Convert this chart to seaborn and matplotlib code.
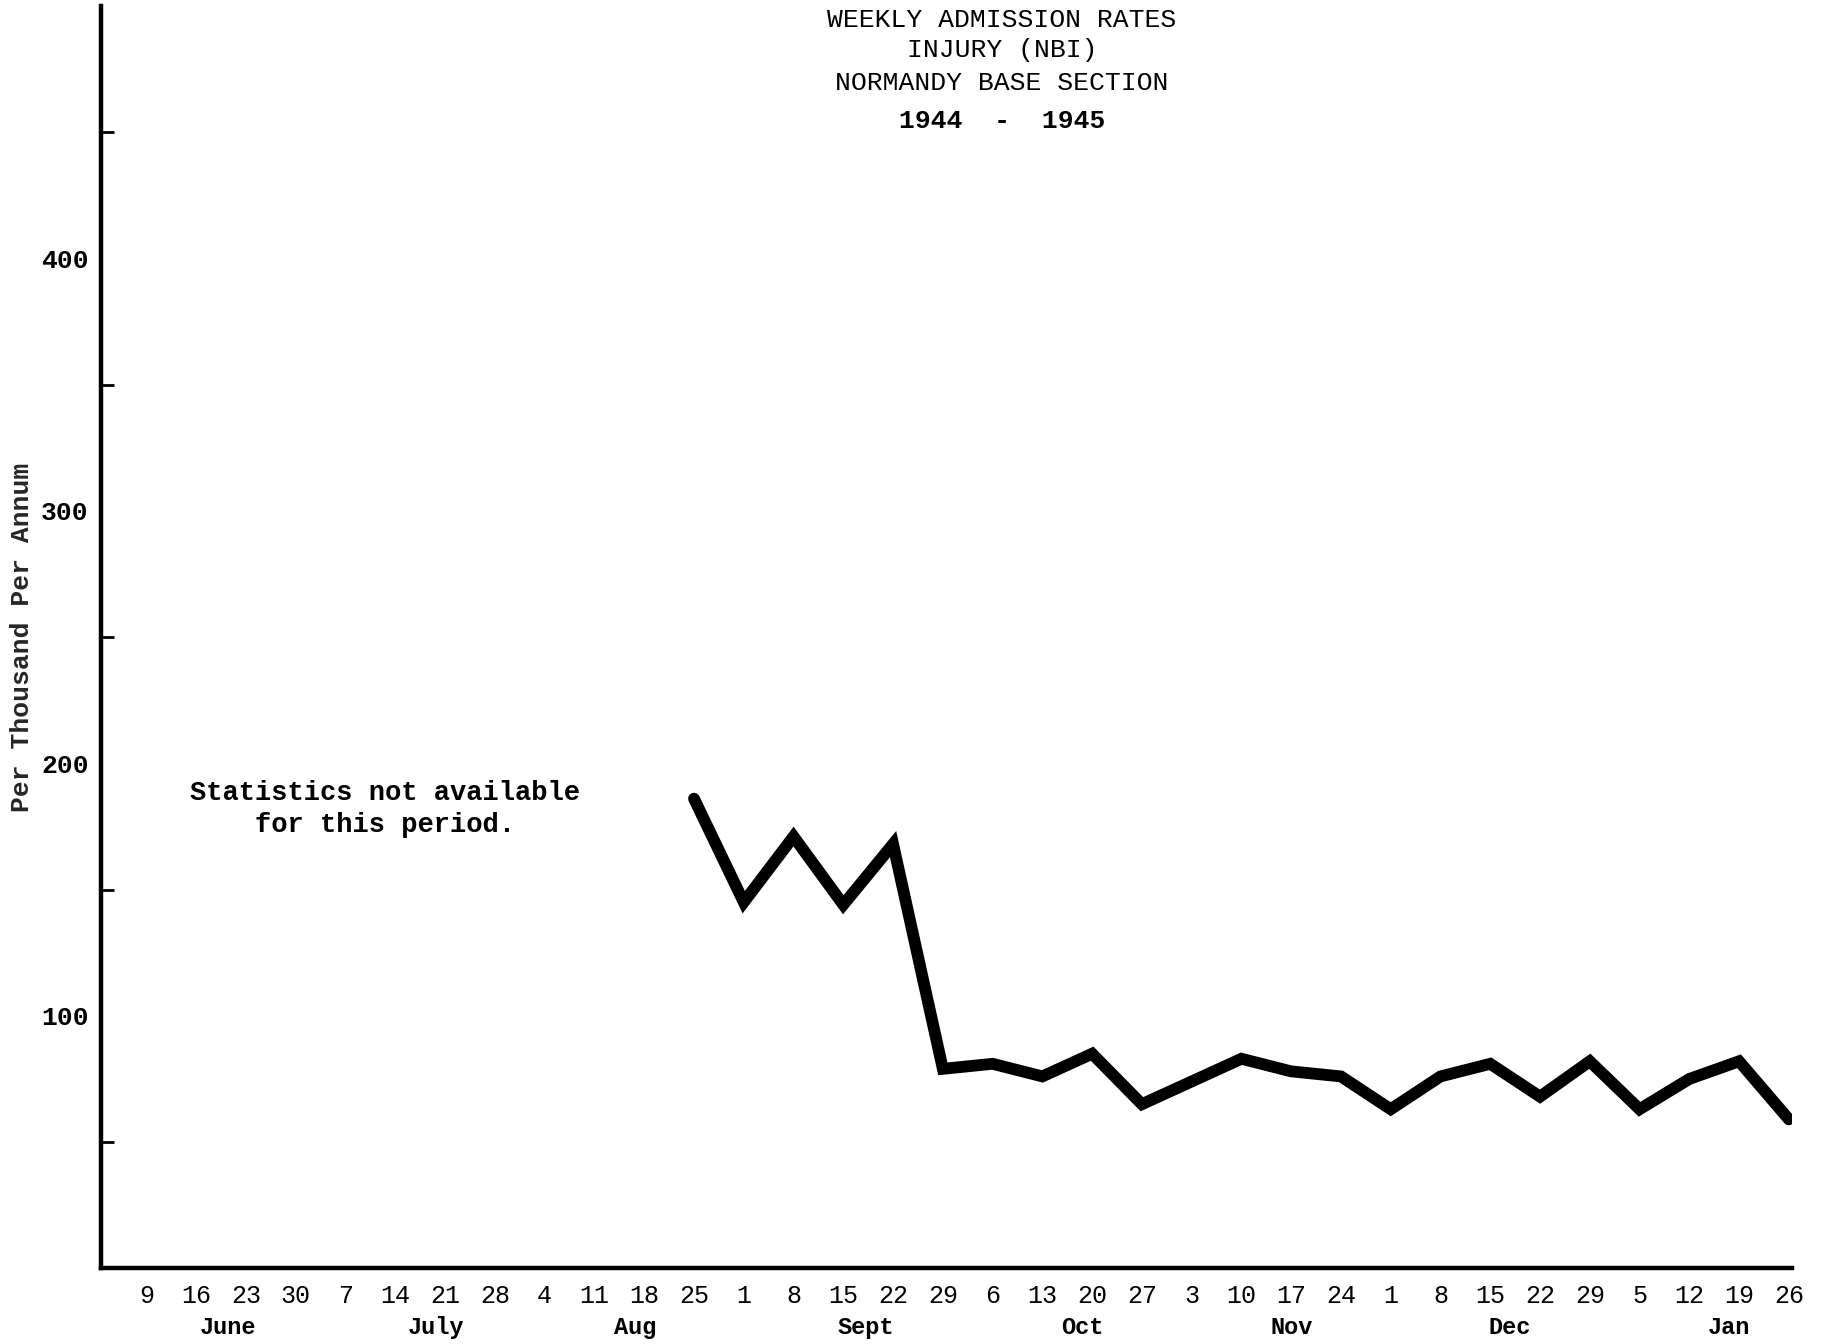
import matplotlib
matplotlib.use("Agg")
import matplotlib.pyplot as plt
import matplotlib.transforms as mtransforms
import seaborn as sns
import pandas as pd
import numpy as np

# ---- data ----
week_days = ["9", "16", "23", "30",
             "7", "14", "21", "28",
             "4", "11", "18", "25",
             "1", "8", "15", "22", "29",
             "6", "13", "20", "27",
             "3", "10", "17", "24",
             "1", "8", "15", "22", "29",
             "5", "12", "19", "26"]
month_names = ["June", "July", "Aug", "Sept", "Oct", "Nov", "Dec", "Jan"]

first_week_with_data = 11   # Aug 25
rates = [186, 145, 171, 144, 168, 79, 81, 76, 85, 65, 74, 83, 78, 76,
         63, 76, 81, 68, 82, 63, 75, 82, 59]

y_major = [100, 200, 300, 400]
y_minor = [50, 150, 250, 350, 450]

title_lines = ["WEEKLY ADMISSION RATES", "INJURY (NBI)", "NORMANDY BASE SECTION"]
title_years = "1944  -  1945"
y_label = "Per Thousand Per Annum"
note_text = "Statistics not available\nfor this period."

# layout (label positions in week units)
month_label_pos = [1.64, 5.82, 9.81, 14.46, 18.8, 23.0, 27.4, 31.8]

# ---- build frame ----
df = pd.DataFrame({
    "week": np.arange(first_week_with_data, first_week_with_data + len(rates)),
    "rate": rates,
})

sns.set_theme(style="white")
plt.rcParams["font.family"] = ["Liberation Mono", "DejaVu Sans Mono", "DejaVu Sans"]

fig = plt.figure(figsize=(18.25, 13.44), dpi=100)
ax = fig.add_axes([0.0555, 0.0563, 0.9266, 0.9394])

sns.lineplot(data=df, x="week", y="rate", ax=ax, color="black", linewidth=8.5,
             solid_joinstyle="miter", solid_capstyle="round", legend=False)

ax.set_xlim(-0.91, 33.07)
ax.set_ylim(0, 500)

for s in ["top", "right"]:
    ax.spines[s].set_visible(False)
for s in ["left", "bottom"]:
    ax.spines[s].set_color("black")
    ax.spines[s].set_linewidth(3.2)

ax.set_xticks(np.arange(len(week_days)))
ax.set_xticklabels(week_days, fontsize=18)
ax.tick_params(axis="x", direction="in", length=9, width=2, color="black",
               pad=11, labelcolor="black")

ax.set_yticks(y_major)
ax.set_yticklabels([str(v) for v in y_major], fontsize=19, fontweight="bold")
ax.set_yticks(y_minor, minor=True)
ax.tick_params(axis="y", which="major", direction="inout", length=16, width=2,
               color="black", pad=1, labelcolor="black")
ax.tick_params(axis="y", which="minor", direction="in", length=9, width=2,
               color="black", left=True)

ax.set_xlabel("")
ax.set_ylabel(y_label, fontsize=19, fontweight="bold")
ax.yaxis.set_label_coords(-0.04, 0.5)
ax.grid(False)

# month labels under the day numbers
trans = mtransforms.blended_transform_factory(ax.transData, ax.transAxes)
for name, xpos in zip(month_names, month_label_pos):
    ax.text(xpos, -0.047, name, transform=trans, ha="center", va="center",
            fontsize=17, fontweight="bold", color="black")

# annotation
ax.text(4.8, 182, note_text, ha="center", va="center", fontsize=19.5,
        fontweight="bold", color="black", linespacing=1.3)

# title block
tx = 0.549
title_y = [20, 50, 83]
for line, yy in zip(title_lines, title_y):
    fig.text(tx, 1 - yy / 1344, line, ha="center", va="center",
             fontsize=19, color="black")
fig.text(tx, 1 - 121 / 1344, title_years, ha="center", va="center",
         fontsize=19, fontweight="bold", color="black")

fig.savefig("out.png", dpi=100, facecolor="white")
